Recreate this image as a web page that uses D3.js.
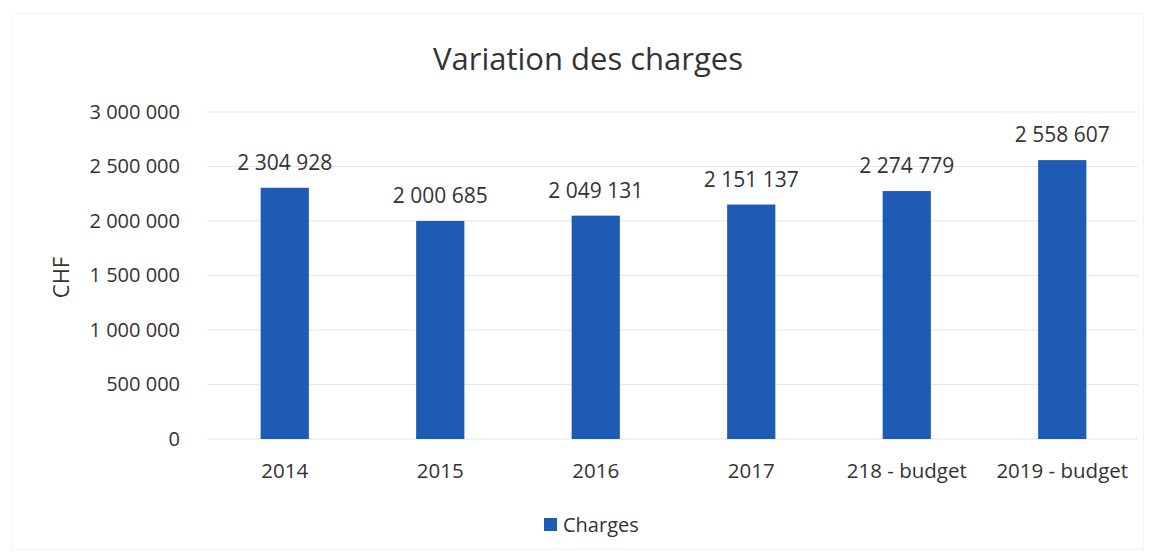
<!DOCTYPE html>
<html>
<head>
<meta charset="utf-8">
<script src="https://cdn.jsdelivr.net/npm/d3@7"></script>
<style>
html,body{margin:0;padding:0;background:#fff;}
svg text{font-family:"Open Sans","Noto Sans",sans-serif;fill:#333;}
</style>
</head>
<body>
<svg id="chart" width="1152" height="556"></svg>
<script>
const categories = ["2014", "2015", "2016", "2017", "218 - budget", "2019 - budget"];
const charges = [2304928, 2000685, 2049131, 2151137, 2274779, 2558607];
const yTicks = [0, 500000, 1000000, 1500000, 2000000, 2500000, 3000000];
const title = "Variation des charges";
const yTitle = "CHF";
const seriesName = "Charges";

const W = 1152, H = 556;
const m = {left: 207, right: 12, top: 112, bottom: 117};
const svg = d3.select("#chart");
const locale = d3.formatLocale({decimal: ",", thousands: " ", grouping: [3], currency: ["", ""]});
const fmt = locale.format(",d");
const color = "#1d5bb5";

svg.append("rect").attr("x", 11.5).attr("y", 13.5).attr("width", W - 20).attr("height", H - 20)
  .attr("fill", "none").attr("stroke", "#f3f3f3");

const x = d3.scaleBand().domain(categories).range([m.left, W - m.right]).paddingInner(0.69).paddingOuter(0.345);
const y = d3.scaleLinear().domain([0, 3000000]).range([H - m.bottom, m.top]);

// grid
svg.append("g").selectAll("line").data(yTicks).join("line")
  .attr("x1", m.left).attr("x2", W - m.right - 2)
  .attr("y1", d => y(d)).attr("y2", d => y(d))
  .attr("stroke", "#e6e6e6").attr("stroke-width", 1.2);

// y axis labels
const yAxis = d3.axisLeft(y).tickValues(yTicks).tickFormat(fmt).tickSize(0).tickPadding(27);
const ya = svg.append("g").attr("transform", `translate(${m.left},0)`).call(yAxis);
ya.select(".domain").remove();
ya.selectAll("text").style("font-size", "20px").attr("fill", "#333");

// x axis labels
const xAxis = d3.axisBottom(x).tickSize(0).tickPadding(24);
const xa = svg.append("g").attr("transform", `translate(0,${y(0)})`).call(xAxis);
xa.select(".domain").remove();
xa.selectAll("text").style("font-size", "20.5px").attr("fill", "#333");

// bars
svg.append("g").selectAll("rect").data(charges).join("rect")
  .attr("x", (d, i) => x(categories[i]))
  .attr("width", x.bandwidth())
  .attr("y", d => y(d))
  .attr("height", d => y(0) - y(d))
  .attr("fill", color);

// value labels
svg.append("g").selectAll("text").data(charges).join("text")
  .attr("x", (d, i) => x(categories[i]) + x.bandwidth() / 2)
  .attr("y", d => y(d) - 18)
  .attr("text-anchor", "middle")
  .style("font-size", "21px")
  .text(d => fmt(d));

// title
svg.append("text").attr("x", 588).attr("y", 70).attr("text-anchor", "middle")
  .style("font-size", "31px").text(title);

// y title
svg.append("text").attr("transform", `translate(69,${(y(0) + y(3000000)) / 2 + 2}) rotate(-90)`)
  .attr("text-anchor", "middle").style("font-size", "22px").text(yTitle);

// legend
const lg = svg.append("g").attr("transform", "translate(544,518)");
lg.append("rect").attr("width", 13).attr("height", 13).attr("fill", color);
lg.append("text").attr("x", 19).attr("y", 14).style("font-size", "20px").text(seriesName);
</script>
</body>
</html>
